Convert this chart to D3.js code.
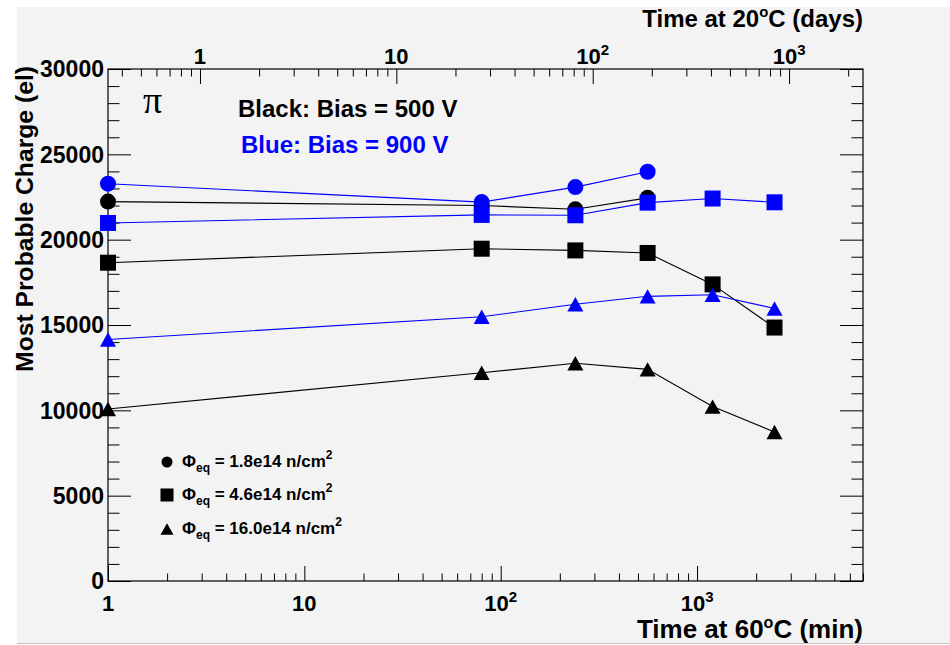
<!DOCTYPE html>
<html>
<head>
<meta charset="utf-8">
<script src="https://cdn.jsdelivr.net/npm/d3@7"></script>
<style>
	body { margin: 0; background: #ffffff; }
	text { font-family: "Liberation Sans", Arial, sans-serif; font-weight: bold; }
</style>
</head>
<body>
<script>
// annealing times at 60 C (min)
const times = [1, 80, 240, 560, 1200, 2480];

// most probable charge (el)
const black18 = [22230, 22000, 21780, 22450];
const blue18 = [23280, 22200, 23080, 23980];
const black46 = [18650, 19470, 19370, 19220, 17380, 14850];
const blue46 = [20980, 21450, 21430, 22170, 22410, 22190];
const black160 = [10080, 12200, 12760, 12400, 10220, 8730];
const blue160 = [14150, 15480, 16220, 16680, 16770, 15970];

const yTicks = [0, 5000, 10000, 15000, 20000, 25000, 30000];
const bottomLabels = [1, 10, 100, 1000];
const topLabels = [1, 10, 100, 1000];
const legendLabels = ["1.8e14", "4.6e14", "16.0e14"];

const series = [
	{ values: black18, color: "#000000", shape: "circle" },
	{ values: black46, color: "#000000", shape: "square" },
	{ values: black160, color: "#000000", shape: "triangle" },
	{ values: blue18, color: "#0000ff", shape: "circle" },
	{ values: blue46, color: "#0000ff", shape: "square" },
	{ values: blue160, color: "#0000ff", shape: "triangle" },
];

const width = 950;
const height = 645;
const frameLeft = 108, frameRight = 863, frameTop = 69, frameBottom = 581;

const svg = d3.select("body").append("svg")
	.attr("width", width)
	.attr("height", height);

// canvas background
svg.append("rect").attr("x", 17).attr("y", 7)
	.attr("width", width - 17).attr("height", 636)
	.attr("fill", "#f3f3f3");
svg.append("line").attr("x1", 17).attr("x2", width)
	.attr("y1", 643.5).attr("y2", 643.5)
	.attr("stroke", "#c4c4c4");

const x = d3.scaleLog().domain([1, 7000]).range([frameLeft, frameRight]);
const xTop = d3.scaleLog().domain([0.34, 2380]).range([frameLeft, frameRight]);
const y = d3.scaleLinear().domain([0, 30000]).range([frameBottom, frameTop]);

const isDecade = (v) => Math.abs(Math.log10(v) - Math.round(Math.log10(v))) < 1e-9;

function tickAxis(axis, pos, values, size) {
	const g = svg.append("g").attr("transform", pos)
		.call(axis.tickValues(values).tickSize(size).tickSizeOuter(0).tickFormat(""));
	g.selectAll("path.domain").remove();
	g.selectAll("line").attr("stroke", "#000").attr("stroke-width", 1);
	return g;
}

// bottom axis
const xAll = x.ticks();
tickAxis(d3.axisBottom(x), `translate(0,${frameBottom})`, xAll.filter(isDecade), -15);
tickAxis(d3.axisBottom(x), `translate(0,${frameBottom})`, xAll.filter((v) => !isDecade(v)), -7.5);

// top axis (days at 20 C)
const tAll = xTop.ticks();
tickAxis(d3.axisTop(xTop), `translate(0,${frameTop})`, tAll.filter(isDecade), -15);
tickAxis(d3.axisTop(xTop), `translate(0,${frameTop})`, tAll.filter((v) => !isDecade(v)), -7.5);

// left / right y ticks
const yMinor = d3.range(0, 30001, 1000).filter((v) => v % 5000 !== 0);
tickAxis(d3.axisLeft(y), `translate(${frameLeft},0)`, yTicks, -23);
tickAxis(d3.axisLeft(y), `translate(${frameLeft},0)`, yMinor, -11.5);
tickAxis(d3.axisRight(y), `translate(${frameRight},0)`, yTicks, -23);
tickAxis(d3.axisRight(y), `translate(${frameRight},0)`, yMinor, -11.5);

// frame
svg.append("rect").attr("x", frameLeft).attr("y", frameTop)
	.attr("width", frameRight - frameLeft).attr("height", frameBottom - frameTop)
	.attr("fill", "none").attr("stroke", "#000").attr("stroke-width", 1.2);

function powerLabel(sel, v) {
	const e = Math.round(Math.log10(v));
	if (e === 0) sel.text("1");
	else if (e === 1) sel.text("10");
	else {
		sel.append("tspan").text("10");
		sel.append("tspan").attr("dy", -9).attr("font-size", "15px").text(e);
	}
}

// tick labels
yTicks.forEach((v) => {
	svg.append("text").attr("x", 104).attr("y", y(v)).attr("dy", "0.36em")
		.attr("text-anchor", "end").attr("font-size", "23px").text(v);
});
bottomLabels.forEach((v) => {
	svg.append("text").attr("x", x(v)).attr("y", 611)
		.attr("text-anchor", "middle").attr("font-size", "22px").call(powerLabel, v);
});
topLabels.forEach((v) => {
	svg.append("text").attr("x", xTop(v)).attr("y", 64)
		.attr("text-anchor", "middle").attr("font-size", "22px").call(powerLabel, v);
});

// axis titles
function degTitle(sel, pre, post) {
	sel.append("tspan").text(pre);
	sel.append("tspan").attr("dy", -10).attr("font-size", "0.62em").text("o");
	sel.append("tspan").attr("dy", 10).text(post);
}
svg.append("text").attr("x", frameRight).attr("y", 638).attr("text-anchor", "end")
	.attr("font-size", "26px").call(degTitle, "Time at 60", "C (min)");
svg.append("text").attr("x", frameRight).attr("y", 27).attr("text-anchor", "end")
	.attr("font-size", "24px").call(degTitle, "Time at 20", "C (days)");
svg.append("text").attr("transform", "translate(33,66) rotate(-90)")
	.attr("text-anchor", "end").attr("font-size", "24.7px")
	.text("Most Probable Charge (el)");

// data lines and markers
const line = d3.line().x((d, i) => x(times[i])).y((d) => y(d));

function marker(g, shape, cx, cy, s, color) {
	if (shape === "circle") {
		g.append("circle").attr("cx", cx).attr("cy", cy).attr("r", s / 2).attr("fill", color);
	} else if (shape === "square") {
		g.append("rect").attr("x", cx - s / 2).attr("y", cy - s / 2)
			.attr("width", s).attr("height", s).attr("fill", color);
	} else {
		const h = s * 0.9;
		g.append("path")
			.attr("d", `M${cx - s / 2},${cy + h / 2}L${cx + s / 2},${cy + h / 2}L${cx},${cy - h / 2}Z`)
			.attr("fill", color);
	}
}

series.forEach((s) => {
	const g = svg.append("g");
	g.append("path").datum(s.values).attr("d", line)
		.attr("fill", "none").attr("stroke", s.color).attr("stroke-width", 1.1);
	s.values.forEach((v, i) => marker(g, s.shape, x(times[i]), y(v), 16, s.color));
});

// annotations
svg.append("text").attr("x", 143).attr("y", 113)
	.style("font-family", "'Liberation Serif', 'DejaVu Serif', serif")
	.style("font-weight", "normal").attr("font-size", "38px").text("π");
svg.append("text").attr("x", 238).attr("y", 117).attr("font-size", "24px")
	.attr("fill", "#000").text("Black: Bias = 500 V");
svg.append("text").attr("x", 241).attr("y", 153).attr("font-size", "24px")
	.attr("fill", "#0000ff").text("Blue: Bias = 900 V");

// legend
const legendShapes = ["circle", "square", "triangle"];
const legendSizes = [11, 13, 13];
const legendY = [462, 495, 529];
legendLabels.forEach((lab, i) => {
	marker(svg, legendShapes[i], 167, legendY[i], legendSizes[i], "#000");
	const t = svg.append("text").attr("x", 182).attr("y", legendY[i] + 5).attr("font-size", "17px");
	t.append("tspan").text("Φ");
	t.append("tspan").attr("dy", 5).attr("font-size", "12px").text("eq");
	t.append("tspan").attr("dy", -5).text(` = ${lab} n/cm`);
	t.append("tspan").attr("dy", -8).attr("font-size", "12px").text("2");
});
</script>
</body>
</html>
